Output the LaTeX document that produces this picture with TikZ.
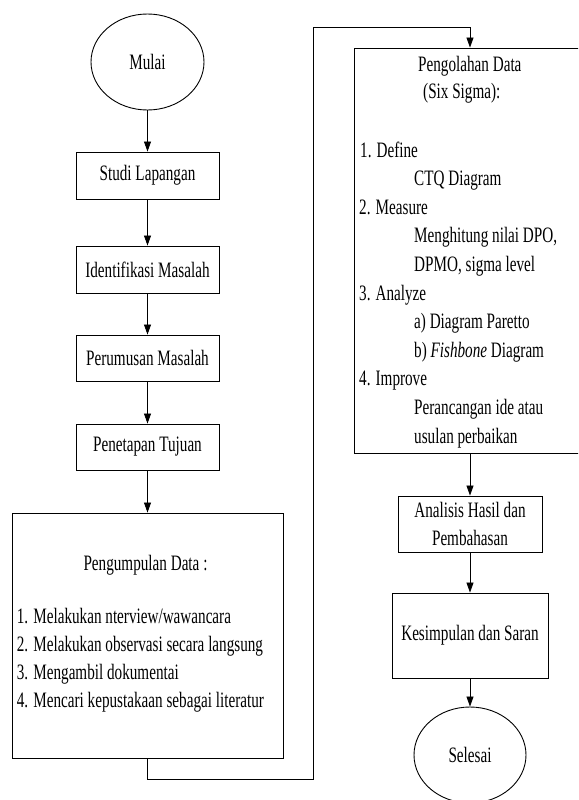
\documentclass[tikz,border=0pt]{standalone}
\usepackage{fontspec}
\setmainfont[FakeStretch=0.69]{Liberation Serif}
\usetikzlibrary{shapes.geometric,arrows.meta}

\begin{document}
\begin{tikzpicture}[x=1pt,y=-1pt,
  every node/.style={font=\fontsize{22}{28}\selectfont},
  box/.style={draw, rectangle, line width=0.9pt, inner sep=0pt},
  term/.style={draw, ellipse, line width=0.9pt, inner sep=0pt,
               minimum width=113pt, minimum height=96pt},
  txt/.style={inner sep=0pt, anchor=base west},
  flow/.style={line width=0.8pt, -{Triangle[length=10pt,width=7pt]}}]

\useasboundingbox (0,0) rectangle (578,800);
\clip (0,0) rectangle (578,800);

% left column
\node[term] (mulai) at (147.5,62) {Mulai};
\node[box, minimum width=143pt, minimum height=47pt] (studi) at (147.5,175.5) {Studi Lapangan};
\node[box, minimum width=143pt, minimum height=47pt] (identifikasi) at (147.5,269.5) {Identifikasi Masalah};
\node[box, minimum width=143pt, minimum height=46pt] (perumusan) at (147.5,358) {Perumusan Masalah};
\node[box, minimum width=143pt, minimum height=46pt] (tujuan) at (147.5,447) {Penetapan Tujuan};

% data collection block
\node[box, minimum width=271pt, minimum height=245pt] (kumpul) at (147.5,635.5) {};
\node[inner sep=0pt, anchor=base] (kumpulT) at (145.5,570) {Pengumpulan Data :};
\node[txt] (k1) at (16.7,623) {1. Melakukan nterview/wawancara};
\node[txt] (k2) at (16.7,651) {2. Melakukan observasi secara langsung};
\node[txt] (k3) at (16.7,679) {3. Mengambil dokumentai};
\node[txt] (k4) at (16.7,707) {4. Mencari kepustakaan sebagai literatur};

% data processing block (runs past the right edge)
\node[box, minimum width=232pt, minimum height=405pt] (olah) at (470,250.5) {};
\node[txt] (o1) at (418,71) {Pengolahan Data};
\node[txt] (o2) at (423,98) {(Six Sigma):};
\node[txt] (o3) at (360,157) {1. Define};
\node[txt] (o4) at (414,185.6) {CTQ Diagram};
\node[txt] (o5) at (359,214.2) {2. Measure};
\node[txt] (o6) at (414,242.8) {Menghitung nilai DPO,};
\node[txt] (o7) at (414,271.4) {DPMO, sigma level};
\node[txt] (o8) at (359,300) {3. Analyze};
\node[txt] (o9) at (414,328.6) {a) Diagram Paretto};
\node[txt] (o10) at (414,357.2) {b) \textit{Fishbone} Diagram};
\node[txt] (o11) at (359,385.8) {4. Improve};
\node[txt] (o12) at (414,414.4) {Perancangan ide atau};
\node[txt] (o13) at (414,443) {usulan perbaikan};

% right column
\node[box, minimum width=144pt, minimum height=56pt, align=center] (hasil) at (470,524) {Analisis Hasil dan\\Pembahasan};
\node[box, minimum width=156pt, minimum height=85pt] (saran) at (470,635.5) {Kesimpulan dan Saran};
\node[term, minimum width=112pt] (selesai) at (470,755) {Selesai};

% connectors
\draw[flow] (mulai) -- (studi);
\draw[flow] (studi) -- (identifikasi);
\draw[flow] (identifikasi) -- (perumusan);
\draw[flow] (perumusan) -- (tujuan);
\draw[flow] (tujuan) -- (kumpul);
\coordinate (lowrun) at (313,779);
\coordinate (highrun) at (313,27);
\draw[flow] (kumpul.south) |- (lowrun) -- (highrun) -| (olah.north);
\draw[flow] (olah) -- (hasil);
\draw[flow] (hasil) -- (saran);
\draw[flow] (saran) -- (selesai);
\end{tikzpicture}
\end{document}
